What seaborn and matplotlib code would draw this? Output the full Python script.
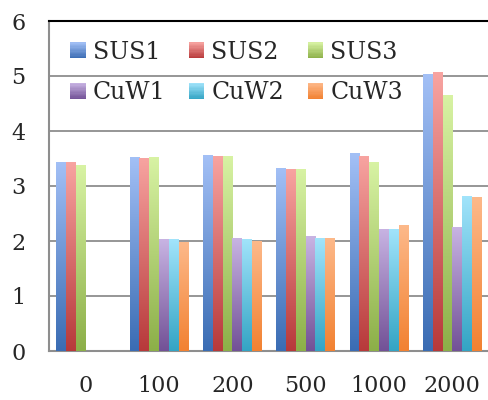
import numpy as np
import pandas as pd
import matplotlib
matplotlib.use("Agg")
import matplotlib.pyplot as plt
import seaborn as sns
from matplotlib.colors import LinearSegmentedColormap
from matplotlib.patches import Patch, Rectangle
from matplotlib.legend_handler import HandlerBase

# data
cats = ['0', '100', '200', '500', '1000', '2000']
series = ['SUS1', 'SUS2', 'SUS3', 'CuW1', 'CuW2', 'CuW3']
sus1 = [3.44, 3.53, 3.56, 3.33, 3.60, 5.04]
sus2 = [3.44, 3.51, 3.55, 3.31, 3.55, 5.07]
sus3 = [3.38, 3.53, 3.55, 3.31, 3.44, 4.66]
cuw1 = [np.nan, 2.03, 2.05, 2.09, 2.22, 2.25]
cuw2 = [np.nan, 2.03, 2.04, 2.05, 2.22, 2.82]
cuw3 = [np.nan, 1.98, 2.00, 2.05, 2.29, 2.80]

# excel style gradients (top colour, bottom colour)
grads = {
    'SUS1': ('#a3c0f6', '#3a6cb3'),
    'SUS2': ('#f8a4a1', '#b7393a'),
    'SUS3': ('#d8f3a4', '#8caf48'),
    'CuW1': ('#c8b4e3', '#725196'),
    'CuW2': ('#a2e4fb', '#33a4c4'),
    'CuW3': ('#fdb98a', '#f28131'),
}
cmaps = {n: LinearSegmentedColormap.from_list(n, [grads[n][1], grads[n][0]]) for n in series}

rows = []
for name, vals in zip(series, [sus1, sus2, sus3, cuw1, cuw2, cuw3]):
    for c, v in zip(cats, vals):
        rows.append({'cat': c, 'series': name, 'value': v})
df = pd.DataFrame(rows)


class GradHandler(HandlerBase):
    # legend square drawn as stacked strips going light -> dark
    def create_artists(self, legend, orig_handle, xdescent, ydescent, width, height, fontsize, trans):
        cmap = cmaps[orig_handle.get_label()]
        n = 12
        arts = []
        for i in range(n):
            r = Rectangle((-xdescent, -ydescent + height * i / n), width, height / n + 0.3,
                          facecolor=cmap((i + 0.5) / n), edgecolor='none', transform=trans)
            arts.append(r)
        return arts


sns.set_style('white')
plt.rcParams['font.family'] = ['DejaVu Serif']

fig = plt.figure(figsize=(4.89, 4.0), dpi=100)
ax = fig.add_axes([0.1002, 0.1225, 0.8998, 0.825])

mids = {k: v[1] for k, v in grads.items()}
sns.barplot(data=df, x='cat', y='value', hue='series', order=cats, hue_order=series,
            palette=mids, errorbar=None, width=0.8, dodge=True, ax=ax, legend=False,
            linewidth=0, zorder=3)

# gradient fill inside each bar
for cont, name in zip(ax.containers, series):
    for p in cont.patches:
        h = p.get_height()
        if not np.isfinite(h) or h <= 0:
            continue
        x0 = p.get_x()
        w = p.get_width()
        grad = np.linspace(0, 1, 256).reshape(-1, 1)
        im = ax.imshow(grad, cmap=cmaps[name], origin='lower', extent=[x0, x0 + w, 0, h],
                       aspect='auto', zorder=4, interpolation='bilinear')
        im.set_clip_path(p)

ax.set_xlim(-0.5, 5.5)
ax.set_ylim(0, 6)
ax.set_yticks(range(0, 7))
ax.set_xlabel('')
ax.set_ylabel('')

ax.yaxis.grid(True, color='#8e8e8e', linewidth=1.3, zorder=0)
ax.set_axisbelow(True)
for s in ['left', 'bottom']:
    ax.spines[s].set_color('#8e8e8e')
    ax.spines[s].set_linewidth(1.5)
ax.spines['right'].set_visible(False)
ax.spines['top'].set_color('black')
ax.spines['top'].set_linewidth(1.5)

ax.set_xticks(np.arange(-0.5, 6), minor=True)
ax.tick_params(axis='x', which='major', length=0, pad=17, labelsize=16)
ax.tick_params(axis='x', which='minor', length=8, width=1.5, color='#8e8e8e', direction='out')
ax.tick_params(axis='y', length=7, width=1.5, color='#8e8e8e', direction='out', pad=10, labelsize=16)

# row-major legend order: matplotlib fills by column
leg_order = ['SUS1', 'CuW1', 'SUS2', 'CuW2', 'SUS3', 'CuW3']
handles = [Patch(facecolor=mids[n], label=n) for n in leg_order]
ax.legend(handles, leg_order, ncol=3, loc='upper left', bbox_to_anchor=(0.0, 1.005),
          frameon=False, fontsize=17, handlelength=0.65, handleheight=0.65,
          handletextpad=0.3, columnspacing=1.0, labelspacing=0.75,
          handler_map={Patch: GradHandler()})

fig.savefig('out.png', dpi=100)
